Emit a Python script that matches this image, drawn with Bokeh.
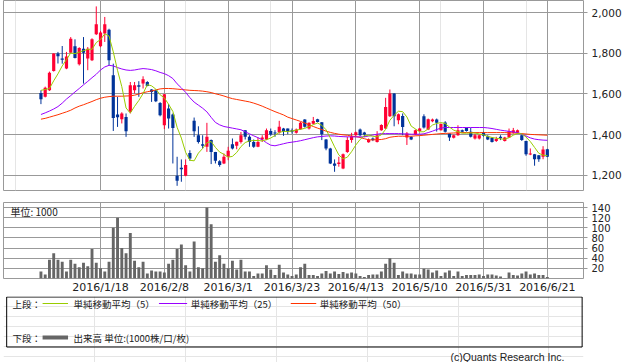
from bokeh.plotting import figure
from bokeh.layouts import column
from bokeh.models import ColumnDataSource, Range1d, FixedTicker, NumeralTickFormatter, Grid, Label
from bokeh.core.properties import value
from bokeh.embed import file_html
from bokeh.resources import INLINE

# ---------------- data ----------------
# trading-day index: 0 = 2016/1/18, 15 trading days between labelled dates
day = list(range(-14, 106))

opens = [1605, 1586, 1618, 1713, 1799, 1774, 1725, 1803, 1835, 1746,
         1823, 1774, 1766, 1894, 1835, 1897, 1916, 1692, 1499, 1476,
         1487, 1512, 1618, 1643, 1651, 1659, 1622, 1618, 1556, 1446,
         1528, 1499, 1197, 1237, 1197, 1310, 1468, 1397, 1353, 1340,
         1373, 1315, 1269, 1258, 1291, 1353, 1345, 1364, 1422, 1389,
         1364, 1340, 1376, 1376, 1418, 1410, 1410, 1430, 1430, 1422,
         1409, 1427, 1474, 1430, 1454, 1476, 1461, 1376, 1332, 1258,
         1255, 1233, 1315, 1373, 1397, 1425, 1410, 1363, 1381, 1364,
         1422, 1430, 1491, 1602, 1471, 1492, 1386, 1389, 1400, 1418,
         1491, 1425, 1466, 1474, 1422, 1460, 1405, 1384, 1397, 1422,
         1433, 1414, 1381, 1381, 1410, 1392, 1384, 1368, 1389, 1369,
         1386, 1409, 1409, 1397, 1368, 1302, 1304, 1299, 1291, 1328]

highs = [1618, 1636, 1710, 1800, 1807, 1836, 1807, 1880, 1869, 1830,
         1880, 1831, 1874, 2031, 1910, 1979, 1921, 1749, 1586, 1510,
         1504, 1659, 1659, 1663, 1687, 1663, 1624, 1620, 1560, 1600,
         1550, 1504, 1291, 1278, 1278, 1323, 1484, 1441, 1397, 1458,
         1376, 1315, 1274, 1307, 1340, 1381, 1365, 1413, 1422, 1397,
         1376, 1386, 1397, 1430, 1430, 1422, 1468, 1433, 1430, 1430,
         1430, 1462, 1476, 1460, 1487, 1478, 1462, 1378, 1335, 1278,
         1291, 1307, 1389, 1409, 1415, 1430, 1414, 1381, 1386, 1417,
         1451, 1581, 1622, 1604, 1504, 1504, 1413, 1392, 1425, 1433,
         1500, 1479, 1479, 1479, 1455, 1466, 1405, 1400, 1446, 1425,
         1435, 1433, 1405, 1400, 1414, 1397, 1386, 1389, 1397, 1389,
         1430, 1433, 1425, 1400, 1370, 1332, 1305, 1299, 1343, 1330]

lows = [1550, 1583, 1615, 1710, 1750, 1749, 1722, 1800, 1775, 1740,
        1651, 1717, 1762, 1890, 1830, 1856, 1741, 1418, 1438, 1455,
        1389, 1504, 1602, 1586, 1627, 1638, 1561, 1560, 1490, 1427,
        1430, 1258, 1148, 1168, 1195, 1271, 1389, 1356, 1332, 1315,
        1255, 1258, 1242, 1255, 1274, 1327, 1328, 1356, 1376, 1340,
        1335, 1338, 1364, 1373, 1394, 1389, 1405, 1394, 1402, 1405,
        1405, 1424, 1435, 1425, 1451, 1460, 1373, 1323, 1255, 1217,
        1242, 1230, 1310, 1360, 1395, 1392, 1389, 1360, 1368, 1361,
        1419, 1428, 1487, 1441, 1451, 1397, 1349, 1373, 1397, 1415,
        1430, 1422, 1461, 1415, 1420, 1410, 1369, 1381, 1394, 1410,
        1415, 1386, 1376, 1376, 1390, 1373, 1361, 1364, 1373, 1366,
        1384, 1405, 1405, 1369, 1296, 1299, 1247, 1266, 1279, 1289]

closes = [1574, 1631, 1704, 1799, 1786, 1769, 1785, 1872, 1777, 1826,
          1803, 1823, 1869, 1943, 1903, 1943, 1766, 1482, 1486, 1504,
          1417, 1643, 1643, 1635, 1672, 1639, 1610, 1564, 1495, 1599,
          1479, 1433, 1173, 1230, 1251, 1283, 1417, 1364, 1345, 1389,
          1315, 1271, 1250, 1291, 1320, 1332, 1365, 1397, 1389, 1364,
          1340, 1364, 1386, 1422, 1401, 1405, 1439, 1414, 1417, 1414,
          1425, 1458, 1439, 1458, 1467, 1462, 1402, 1332, 1258, 1247,
          1263, 1304, 1373, 1392, 1412, 1397, 1400, 1376, 1373, 1397,
          1447, 1536, 1602, 1491, 1500, 1438, 1405, 1376, 1422, 1430,
          1435, 1476, 1474, 1459, 1452, 1414, 1386, 1397, 1422, 1414,
          1418, 1389, 1397, 1397, 1394, 1376, 1364, 1378, 1382, 1386,
          1417, 1422, 1422, 1373, 1304, 1307, 1279, 1279, 1327, 1291]

volume = [14, 8, 37, 50, 37, 33, 14, 37, 29, 22,
          31, 24, 58, 31, 20, 14, 33, 100, 120, 60,
          50, 90, 35, 22, 33, 10, 16, 14, 14, 12,
          29, 37, 58, 67, 26, 14, 73, 22, 20, 140,
          107, 33, 46, 29, 20, 35, 18, 37, 14, 14,
          5, 10, 10, 26, 18, 7, 27, 12, 8, 5,
          8, 22, 29, 7, 7, 5, 10, 15, 10, 14,
          9, 13, 10, 12, 10, 5, 3, 7, 8, 8,
          14, 29, 40, 31, 7, 14, 10, 10, 8, 8,
          19, 18, 12, 16, 5, 12, 16, 5, 14, 5,
          7, 7, 7, 8, 5, 8, 8, 6, 4, 1,
          12, 7, 6, 10, 14, 8, 10, 7, 7, 3]

ma5 = [1618, 1622, 1627, 1665, 1699, 1738, 1769, 1802, 1798, 1806,
       1813, 1820, 1820, 1853, 1868, 1896, 1885, 1807, 1716, 1636,
       1531, 1506, 1539, 1568, 1602, 1646, 1640, 1624, 1596, 1581,
       1549, 1514, 1436, 1383, 1313, 1274, 1271, 1309, 1332, 1360,
       1366, 1337, 1314, 1303, 1289, 1293, 1312, 1341, 1361, 1369,
       1371, 1371, 1369, 1375, 1383, 1396, 1411, 1416, 1415, 1418,
       1422, 1426, 1431, 1439, 1449, 1457, 1446, 1424, 1384, 1340,
       1300, 1281, 1289, 1316, 1349, 1376, 1395, 1395, 1392, 1389,
       1399, 1426, 1471, 1495, 1515, 1513, 1487, 1442, 1428, 1414,
       1414, 1428, 1447, 1455, 1459, 1455, 1437, 1422, 1414, 1407,
       1407, 1408, 1408, 1403, 1399, 1391, 1386, 1382, 1379, 1377,
       1385, 1397, 1406, 1404, 1388, 1366, 1337, 1308, 1299, 1297]

ma25 = [1499, 1507, 1516, 1526, 1538, 1555, 1575, 1592, 1610, 1627,
        1645, 1662, 1680, 1697, 1718, 1733, 1741, 1738, 1730, 1723,
        1718, 1716, 1718, 1722, 1725, 1723, 1720, 1714, 1706, 1700,
        1690, 1676, 1650, 1630, 1608, 1582, 1560, 1545, 1530, 1512,
        1485, 1460, 1448, 1440, 1436, 1432, 1428, 1424, 1414, 1404,
        1394, 1385, 1375, 1360, 1348, 1345, 1350, 1355, 1360, 1363,
        1366, 1370, 1375, 1380, 1385, 1389, 1391, 1393, 1394, 1393,
        1391, 1390, 1389, 1389, 1389, 1389, 1389, 1393, 1398, 1402,
        1405, 1405, 1405, 1405, 1405, 1404, 1403, 1402, 1402, 1402,
        1404, 1410, 1417, 1425, 1432, 1435, 1435, 1435, 1435, 1435,
        1435, 1435, 1435, 1435, 1435, 1433, 1430, 1426, 1422, 1419,
        1416, 1413, 1410, 1402, 1393, 1384, 1378, 1375, 1373, 1372]

ma50 = [1476, 1480, 1486, 1492, 1498, 1505, 1512, 1520, 1531, 1540,
        1547, 1555, 1563, 1572, 1579, 1584, 1587, 1589, 1589, 1589,
        1590, 1591, 1594, 1600, 1606, 1611, 1615, 1620, 1625, 1627,
        1627, 1626, 1624, 1622, 1620, 1618, 1617, 1616, 1614, 1611,
        1607, 1601, 1596, 1590, 1583, 1577, 1573, 1569, 1565, 1561,
        1555, 1548, 1540, 1531, 1522, 1513, 1505, 1497, 1486, 1479,
        1472, 1465, 1457, 1448, 1440, 1432, 1425, 1417, 1411, 1406,
        1402, 1399, 1397, 1393, 1390, 1386, 1380, 1374, 1374, 1375,
        1376, 1380, 1387, 1390, 1392, 1392, 1392, 1392, 1394, 1395,
        1397, 1399, 1401, 1403, 1405, 1406, 1407, 1408, 1409, 1410,
        1410, 1410, 1410, 1410, 1410, 1410, 1410, 1410, 1410, 1410,
        1409, 1408, 1407, 1405, 1403, 1401, 1400, 1399, 1398, 1397]

tick_days = [0, 15, 30, 45, 60, 75, 90, 105]
tick_labels = ["2016/1/18", "2016/2/8", "2016/3/1", "2016/3/23",
               "2016/4/13", "2016/5/10", "2016/5/31", "2016/6/21"]
price_ticks = [1200, 1400, 1600, 1800, 2000]
volume_ticks = [20, 40, 60, 80, 100, 120, 140]

legend_upper = ["単純移動平均（5）", "単純移動平均（25）", "単純移動平均（50）"]
legend_lower = "出来高 単位:(1000株/口/枚)"

# ---------------- styles ----------------
UP = "#FF0033"
DOWN = "#003399"
GRID = "#999999"
C_MA5 = "#99CC00"
C_MA25 = "#9900FF"
C_MA50 = "#FF3300"
C_VOL = "#666666"
TXT = "#222222"
NUMFONT = "DejaVu Sans"
JPFONT = "Noto Sans CJK JP"
W = 638

src = ColumnDataSource(dict(
    x=day, o=opens, h=highs, l=lows, c=closes,
    top=[max(a, b) for a, b in zip(opens, closes)],
    bot=[min(a, b) for a, b in zip(opens, closes)],
    color=[UP if c >= o else DOWN for o, c in zip(opens, closes)],
    vol=volume, ma5=ma5, ma25=ma25, ma50=ma50,
))

xr = Range1d(-22.8, 113.5)

# ---------------- price panel ----------------
p1 = figure(width=W, height=201, x_range=xr, y_range=Range1d(1125, 2060),
            output_backend="svg", toolbar_location=None,
            x_axis_location=None, y_axis_location="right",
            min_border_left=3, min_border_top=0, min_border_bottom=11, min_border_right=55)
p1.outline_line_color = GRID
ya = p1.yaxis[0]
ya.ticker = FixedTicker(ticks=price_ticks)
ya.formatter = NumeralTickFormatter(format="0,0")
ya.axis_line_color = None
ya.major_tick_line_color = GRID
ya.major_tick_out = 4
ya.major_tick_in = 0
ya.minor_tick_line_color = None
ya.major_label_standoff = 4
ya.major_label_text_font = NUMFONT
ya.major_label_text_font_size = "10.5px"
ya.major_label_text_color = TXT
p1.ygrid.grid_line_color = GRID
p1.add_layout(Grid(dimension=0, ticker=FixedTicker(ticks=tick_days), grid_line_color=GRID))

p1.segment(x0="x", y0="l", x1="x", y1="h", source=src, line_color="color", line_width=1)
p1.vbar(x="x", width=0.75, top="top", bottom="bot", source=src,
        fill_color="color", line_color=None)
p1.line(x="x", y="ma50", source=src, line_color=C_MA50, line_width=1)
p1.line(x="x", y="ma25", source=src, line_color=C_MA25, line_width=1)
p1.line(x="x", y="ma5", source=src, line_color=C_MA5, line_width=1)

# ---------------- volume panel ----------------
p2 = figure(width=W, height=95, x_range=xr, y_range=Range1d(0, 150),
            output_backend="svg", toolbar_location=None,
            y_axis_location="right",
            min_border_left=3, min_border_top=1, min_border_bottom=15, min_border_right=55)
p2.outline_line_color = GRID
xa = p2.xaxis[0]
xa.ticker = FixedTicker(ticks=tick_days)
xa.major_label_overrides = {d: t for d, t in zip(tick_days, tick_labels)}
xa.axis_line_color = None
xa.major_tick_line_color = None
xa.major_tick_out = 0
xa.major_tick_in = 0
xa.minor_tick_line_color = None
xa.major_label_standoff = 2
xa.major_label_text_font = NUMFONT
xa.major_label_text_font_size = "11px"
xa.major_label_text_color = TXT
ya2 = p2.yaxis[0]
ya2.ticker = FixedTicker(ticks=volume_ticks)
ya2.axis_line_color = None
ya2.major_tick_line_color = GRID
ya2.major_tick_out = 4
ya2.major_tick_in = 0
ya2.minor_tick_line_color = None
ya2.major_label_standoff = 4
ya2.major_label_text_font = NUMFONT
ya2.major_label_text_font_size = "10px"
ya2.major_label_text_color = TXT
p2.xgrid.grid_line_color = GRID
p2.ygrid.grid_line_color = GRID

p2.vbar(x="x", width=0.68, top="vol", bottom=0, source=src, fill_color=C_VOL, line_color=None)
p2.add_layout(Label(x=7, y=75, x_units="screen", y_units="screen", text="単位: 1000",
                    text_font=JPFONT, text_font_size="10px", text_color=TXT,
                    text_baseline="top"))

# ---------------- legend + credit ----------------
H3 = 66
p3 = figure(width=W, height=H3, x_range=Range1d(0, W), y_range=Range1d(H3, 0),
            output_backend="svg", toolbar_location=None,
            x_axis_location=None, y_axis_location=None, min_border=0)
p3.outline_line_color = None
p3.quad(left=[3.5], right=[636.5], top=[0.5], bottom=[50.5],
        fill_color=None, line_color="black", line_width=1)
r1, r2 = 7, 41
p3.text(x=[10, 10], y=[r1, r2], text=["上段：", "下段："], text_font=value(JPFONT),
        text_font_size=value("9.5px"), text_baseline="middle", text_color=TXT)
p3.segment(x0=[43], x1=[71], y0=[r1], y1=[r1], line_color=C_MA5, line_width=1)
p3.segment(x0=[171], x1=[202], y0=[r1], y1=[r1], line_color=C_MA25, line_width=1)
p3.segment(x0=[316], x1=[344], y0=[r1], y1=[r1], line_color=C_MA50, line_width=1)
p3.segment(x0=[43], x1=[71], y0=[r2], y1=[r2], line_color=C_VOL, line_width=4)
p3.text(x=[77, 206, 348], y=[r1, r1, r1], text=legend_upper, text_font=value(JPFONT),
        text_font_size=value("9.5px"), text_baseline="middle", text_color=TXT)
p3.text(x=[77], y=[r2], text=[legend_lower], text_font=value(JPFONT),
        text_font_size=value("9.5px"), text_baseline="middle", text_color=TXT)
p3.text(x=[617], y=[60], text=["(c)Quants Research Inc."], text_font=value("Liberation Sans"),
        text_font_size=value("10.5px"), text_baseline="middle", text_align="right",
        text_color=TXT)

layout = column(p1, p2, p3, spacing=0)
open("out.html", "w").write(file_html(layout, INLINE))
